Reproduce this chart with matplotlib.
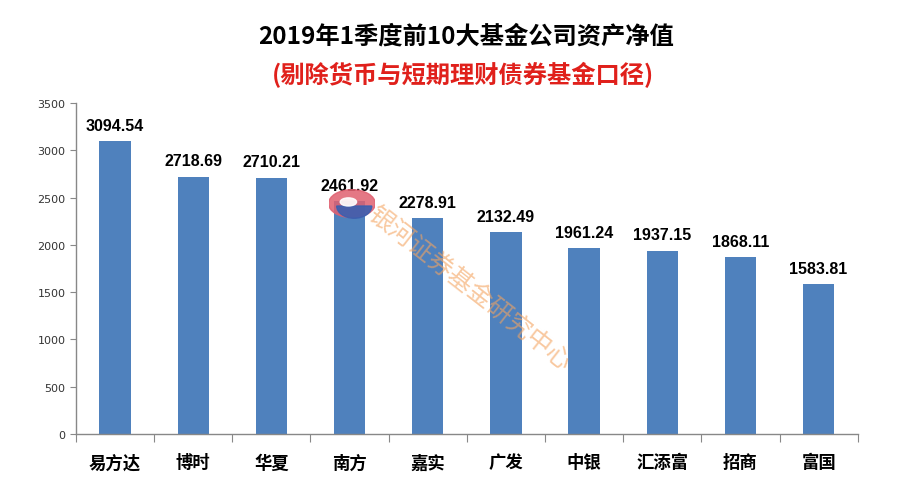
import matplotlib
matplotlib.use('Agg')
import matplotlib.pyplot as plt
from matplotlib.patches import Ellipse, Wedge
import numpy as np

plt.rcParams['font.family'] = ['Noto Sans CJK SC', 'DejaVu Sans']

# Data
companies = ['易方达', '博时', '华夏', '南方', '嘉实', '广发', '中银', '汇添富', '招商', '富国']
net_assets = [3094.54, 2718.69, 2710.21, 2461.92, 2278.91, 2132.49, 1961.24, 1937.15, 1868.11, 1583.81]
yticks = [0, 500, 1000, 1500, 2000, 2500, 3000, 3500]

title = '2019年1季度前10大基金公司资产净值'
subtitle = '(剔除货币与短期理财债券基金口径)'
watermark = '银河证券基金研究中心'

fig = plt.figure(figsize=(9, 5.02), dpi=100)
ax = fig.add_axes([0.0844, 0.1335, 0.8686, 0.6595])

x = np.arange(len(companies))
ax.bar(x, net_assets, width=0.4, color='#4F81BD', zorder=2)

for xi, v in zip(x, net_assets):
    ax.text(xi, v + 90, f'{v:.2f}', ha='center', va='bottom',
            fontsize=11.5, fontweight='bold', color='black', family='Liberation Sans', zorder=4)

ax.set_xlim(-0.5, len(companies) - 0.5)
ax.set_ylim(0, 3500)
ax.set_yticks(yticks)
ax.set_yticklabels([str(t) for t in yticks], fontsize=8, color='#333333', family='DejaVu Sans')

# x ticks at category boundaries, labels centered
ax.set_xticks(np.arange(-0.5, len(companies) + 0.5, 1.0))
ax.set_xticklabels([])
ax.set_xticks(x, minor=True)
ax.set_xticklabels(companies, minor=True, fontsize=12.5, fontweight='bold')
ax.tick_params(axis='x', which='minor', length=0, pad=14)
ax.tick_params(axis='x', which='major', length=6, color='#888888', direction='out')
ax.tick_params(axis='y', length=4, color='#888888', direction='out')

for s in ['top', 'right']:
    ax.spines[s].set_visible(False)
for s in ['left', 'bottom']:
    ax.spines[s].set_color('#888888')
    ax.spines[s].set_linewidth(1.0)

fig.text(0.518, 0.928, title, ha='center', va='center', fontsize=17.5, fontweight='bold', color='black')
fig.text(0.515, 0.850, subtitle, ha='center', va='center', fontsize=17.5, fontweight='bold', color='#E0201B')

# watermark logo and text
logo_ax = fig.add_axes([0.365, 0.56, 0.052, 0.065])
logo_ax.set_xlim(-1, 1)
logo_ax.set_ylim(-1, 1)
logo_ax.axis('off')
logo_ax.add_patch(Ellipse((0, 0), 2.0, 1.7, color='#E06070', alpha=0.85))
logo_ax.add_patch(Wedge((0.1, -0.15), 0.75, 180, 360, color='#3B5FB0', alpha=0.9))
logo_ax.add_patch(Ellipse((-0.15, 0.1), 0.7, 0.5, color='white', alpha=0.9))

fig.text(0.522, 0.425, watermark, ha='center', va='center', rotation=-38,
         fontsize=18, color='#F4A460', alpha=0.6, zorder=5)

fig.savefig('out.png', dpi=100, facecolor='white')
